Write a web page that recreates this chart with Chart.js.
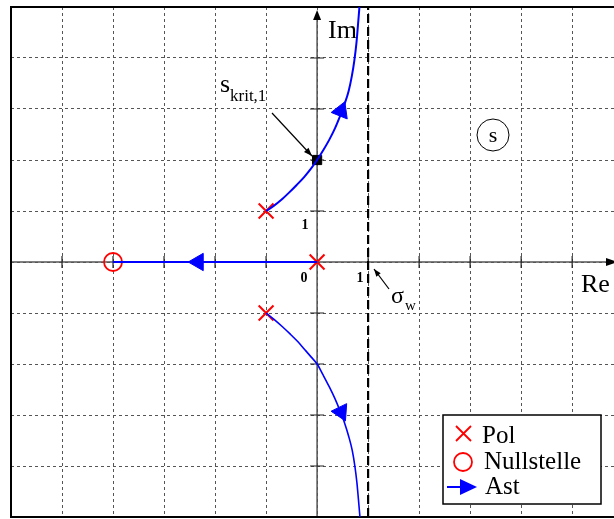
<!DOCTYPE html>
<html>
<head>
<meta charset="utf-8">
<script src="https://cdn.jsdelivr.net/npm/chart.js@4.4.1/dist/chart.umd.min.js"></script>
<style>
  html, body { margin: 0; padding: 0; background: #fff; }
  #wrap { width: 614px; height: 519px; }
</style>
</head>
<body>
<div id="wrap"><canvas id="locusChart"></canvas></div>
<script>
// Wurzelortskurve: Pole, Nullstelle und Äste
const poleRe = [0, -1, -1];
const poleIm = [0, 1, -1];
const zeroRe = [-4];
const zeroIm = [0];

const upperRe = [-1, -0.85, -0.7, -0.55, -0.4, -0.25, -0.12, 0, 0.12, 0.24, 0.35, 0.45, 0.54, 0.62, 0.68, 0.73, 0.77, 0.8, 0.83];
const upperIm = [1, 1.1, 1.22, 1.36, 1.51, 1.67, 1.83, 2, 2.19, 2.4, 2.62, 2.86, 3.1, 3.36, 3.64, 3.95, 4.28, 4.63, 5.0];
const lowerRe = [-1, -0.85, -0.69, -0.53, -0.38, -0.24, -0.11, 0, 0.12, 0.24, 0.35, 0.45, 0.54, 0.62, 0.69, 0.74, 0.78, 0.81, 0.84];
const lowerIm = [-1, -1.12, -1.26, -1.41, -1.56, -1.72, -1.87, -2, -2.22, -2.45, -2.68, -2.92, -3.16, -3.42, -3.7, -4.0, -4.32, -4.65, -5.0];
const realRe = [-4, 0];
const realIm = [0, 0];

const arrowRe = [0.47, 0.47, -2.33];
const arrowIm = [2.96, -2.94, 0];

const sigmaW = 1;
const sKritRe = [0];
const sKritIm = [2];

const xTicks = [-5, -4, -3, -2, -1, 1, 2, 3, 4, 5];
const yTicks = [-4, -3, -2, -1, 1, 2, 3, 4];

const pts = (xs, ys) => xs.map((x, i) => ({ x: x, y: ys[i] }));

const SERIF = '"Liberation Serif", "DejaVu Serif", serif';
const BLUE = '#0000ff';
const RED = '#ff0000';

function arrowLine(ctx, x1, y1, x2, y2, head) {
  const a = Math.atan2(y2 - y1, x2 - x1);
  ctx.beginPath();
  ctx.moveTo(x1, y1);
  ctx.lineTo(x2, y2);
  ctx.stroke();
  ctx.beginPath();
  ctx.moveTo(x2, y2);
  ctx.lineTo(x2 - head * Math.cos(a - 0.35), y2 - head * Math.sin(a - 0.35));
  ctx.lineTo(x2 - head * Math.cos(a + 0.35), y2 - head * Math.sin(a + 0.35));
  ctx.closePath();
  ctx.fill();
}

// Achsen, Rahmen und Achsenstriche unter den Kurven
const axesPlugin = {
  id: 'axes',
  beforeDatasetsDraw(chart) {
    const ctx = chart.ctx;
    const xs = chart.scales.x, ys = chart.scales.y;
    const x0 = xs.getPixelForValue(0), y0 = ys.getPixelForValue(0);
    const a = chart.chartArea;
    ctx.save();
    ctx.strokeStyle = '#555';
    ctx.lineWidth = 1.5;
    ctx.beginPath();
    ctx.moveTo(a.left, y0); ctx.lineTo(a.right, y0);
    ctx.moveTo(x0, a.bottom); ctx.lineTo(x0, a.top + 8);
    ctx.stroke();
    ctx.lineWidth = 1.2;
    ctx.strokeStyle = '#222';
    ctx.beginPath();
    xTicks.forEach(v => {
      const p = xs.getPixelForValue(v);
      ctx.moveTo(p, y0 - 6); ctx.lineTo(p, y0 + 6);
    });
    yTicks.forEach(v => {
      const p = ys.getPixelForValue(v);
      ctx.moveTo(x0 - 7, p); ctx.lineTo(x0 + 7, p);
    });
    ctx.stroke();
    // Pfeilspitzen der Achsen
    ctx.fillStyle = '#000';
    ctx.beginPath();
    ctx.moveTo(x0, a.top + 3); ctx.lineTo(x0 - 4, a.top + 13); ctx.lineTo(x0 + 4, a.top + 13);
    ctx.closePath(); ctx.fill();
    ctx.beginPath();
    ctx.moveTo(a.right + 4, y0); ctx.lineTo(a.right - 8, y0 - 4); ctx.lineTo(a.right - 8, y0 + 4);
    ctx.closePath(); ctx.fill();
    // Rahmen
    ctx.strokeStyle = '#000';
    ctx.lineWidth = 2;
    ctx.beginPath();
    ctx.moveTo(a.right, a.top); ctx.lineTo(a.left, a.top);
    ctx.lineTo(a.left, a.bottom); ctx.lineTo(a.right, a.bottom);
    ctx.stroke();
    ctx.restore();
  }
};

// Beschriftungen und Legende
const labelPlugin = {
  id: 'labels',
  afterDraw(chart) {
    const ctx = chart.ctx;
    ctx.save();
    ctx.fillStyle = '#000';
    ctx.strokeStyle = '#000';
    ctx.textBaseline = 'alphabetic';
    ctx.textAlign = 'left';
    ctx.font = '26px ' + SERIF;
    ctx.fillText('Im', 328, 38);
    ctx.fillText('Re', 581, 292);

    ctx.font = 'bold 14px ' + SERIF;
    ctx.textAlign = 'center';
    ctx.fillText('0', 304, 282);
    ctx.fillText('1', 305, 229);
    ctx.fillText('1', 360, 282);

    ctx.textAlign = 'left';
    ctx.font = '26px ' + SERIF;
    ctx.fillText('s', 220, 92);
    ctx.font = '17px ' + SERIF;
    ctx.fillText('krit,1', 230, 101);
    ctx.lineWidth = 1.2;
    arrowLine(ctx, 272, 113, 312, 156, 9);

    ctx.font = '24px ' + SERIF;
    ctx.fillText('σ', 391, 303);
    ctx.font = '15px ' + SERIF;
    ctx.fillText('w', 405, 310);
    arrowLine(ctx, 389, 289, 374, 269, 8);

    ctx.lineWidth = 1;
    ctx.beginPath();
    ctx.arc(493, 135, 16, 0, Math.PI * 2);
    ctx.stroke();
    ctx.font = '22px ' + SERIF;
    ctx.textAlign = 'center';
    ctx.fillText('s', 493, 142);

    // Legende
    ctx.fillStyle = '#fff';
    ctx.fillRect(443, 415, 158, 89);
    ctx.lineWidth = 1.5;
    ctx.strokeRect(443, 415, 158, 89);
    ctx.strokeStyle = RED;
    ctx.lineWidth = 1.8;
    ctx.beginPath();
    ctx.moveTo(456, 426); ctx.lineTo(471, 441);
    ctx.moveTo(471, 426); ctx.lineTo(456, 441);
    ctx.stroke();
    ctx.beginPath();
    ctx.arc(463, 462, 9, 0, Math.PI * 2);
    ctx.stroke();
    ctx.strokeStyle = BLUE;
    ctx.fillStyle = BLUE;
    ctx.lineWidth = 2;
    ctx.beginPath();
    ctx.moveTo(447, 487); ctx.lineTo(462, 487);
    ctx.stroke();
    ctx.beginPath();
    ctx.moveTo(477, 487); ctx.lineTo(460, 479); ctx.lineTo(460, 495);
    ctx.closePath(); ctx.fill();
    ctx.fillStyle = '#000';
    ctx.textAlign = 'left';
    ctx.font = '25px ' + SERIF;
    ctx.fillText('Pol', 482, 443);
    ctx.fillText('Nullstelle', 484, 469);
    ctx.fillText('Ast', 485, 494);
    ctx.restore();
  }
};

const ctx = document.getElementById('locusChart').getContext('2d');
new Chart(ctx, {
  type: 'scatter',
  data: {
    datasets: [
      {
        label: 'Asymptote',
        data: [{ x: sigmaW, y: -5 }, { x: sigmaW, y: 5 }],
        showLine: true,
        borderColor: '#000',
        borderWidth: 2.2,
        borderDash: [9, 4],
        pointRadius: 0
      },
      {
        label: 'Ast oben',
        data: pts(upperRe, upperIm),
        showLine: true,
        cubicInterpolationMode: 'monotone',
        borderColor: BLUE,
        borderWidth: 2,
        pointRadius: 0
      },
      {
        label: 'Ast unten',
        data: pts(lowerRe, lowerIm),
        showLine: true,
        cubicInterpolationMode: 'monotone',
        borderColor: BLUE,
        borderWidth: 1.6,
        pointRadius: 0
      },
      {
        label: 'Ast reell',
        data: pts(realRe, realIm),
        showLine: true,
        borderColor: BLUE,
        borderWidth: 2,
        pointRadius: 0
      },
      {
        label: 'Richtung',
        data: pts(arrowRe, arrowIm),
        pointStyle: 'triangle',
        pointRadius: 10,
        rotation: [22, 154, 270],
        backgroundColor: BLUE,
        borderColor: BLUE,
        borderWidth: 1
      },
      {
        label: 'Nullstelle',
        data: pts(zeroRe, zeroIm),
        pointStyle: 'circle',
        pointRadius: 9,
        backgroundColor: 'rgba(0,0,0,0)',
        borderColor: RED,
        borderWidth: 1.8
      },
      {
        label: 'Pol',
        data: pts(poleRe, poleIm),
        pointStyle: 'crossRot',
        pointRadius: 10.5,
        borderColor: RED,
        borderWidth: 2
      },
      {
        label: 'skrit',
        data: pts(sKritRe, sKritIm),
        pointStyle: 'rect',
        pointRadius: 6.5,
        backgroundColor: '#000',
        borderColor: '#000'
      }
    ]
  },
  options: {
    responsive: true,
    maintainAspectRatio: false,
    animation: false,
    layout: { autoPadding: false, padding: { left: 11, top: 7, right: 0, bottom: 2 } },
    plugins: {
      legend: { display: false },
      tooltip: { enabled: false }
    },
    scales: {
      x: {
        type: 'linear',
        min: -6,
        max: 5.82,
        ticks: { display: false, stepSize: 1, includeBounds: false },
        grid: { color: '#555', lineWidth: 1, drawTicks: false },
        border: { display: false, dash: [3, 3] },
        afterFit: s => { s.height = 0; }
      },
      y: {
        type: 'linear',
        min: -5,
        max: 5,
        ticks: { display: false, stepSize: 1 },
        grid: { color: '#555', lineWidth: 1, drawTicks: false },
        border: { display: false, dash: [3, 3] },
        afterFit: s => { s.width = 0; }
      }
    }
  },
  plugins: [axesPlugin, labelPlugin]
});
</script>
</body>
</html>
